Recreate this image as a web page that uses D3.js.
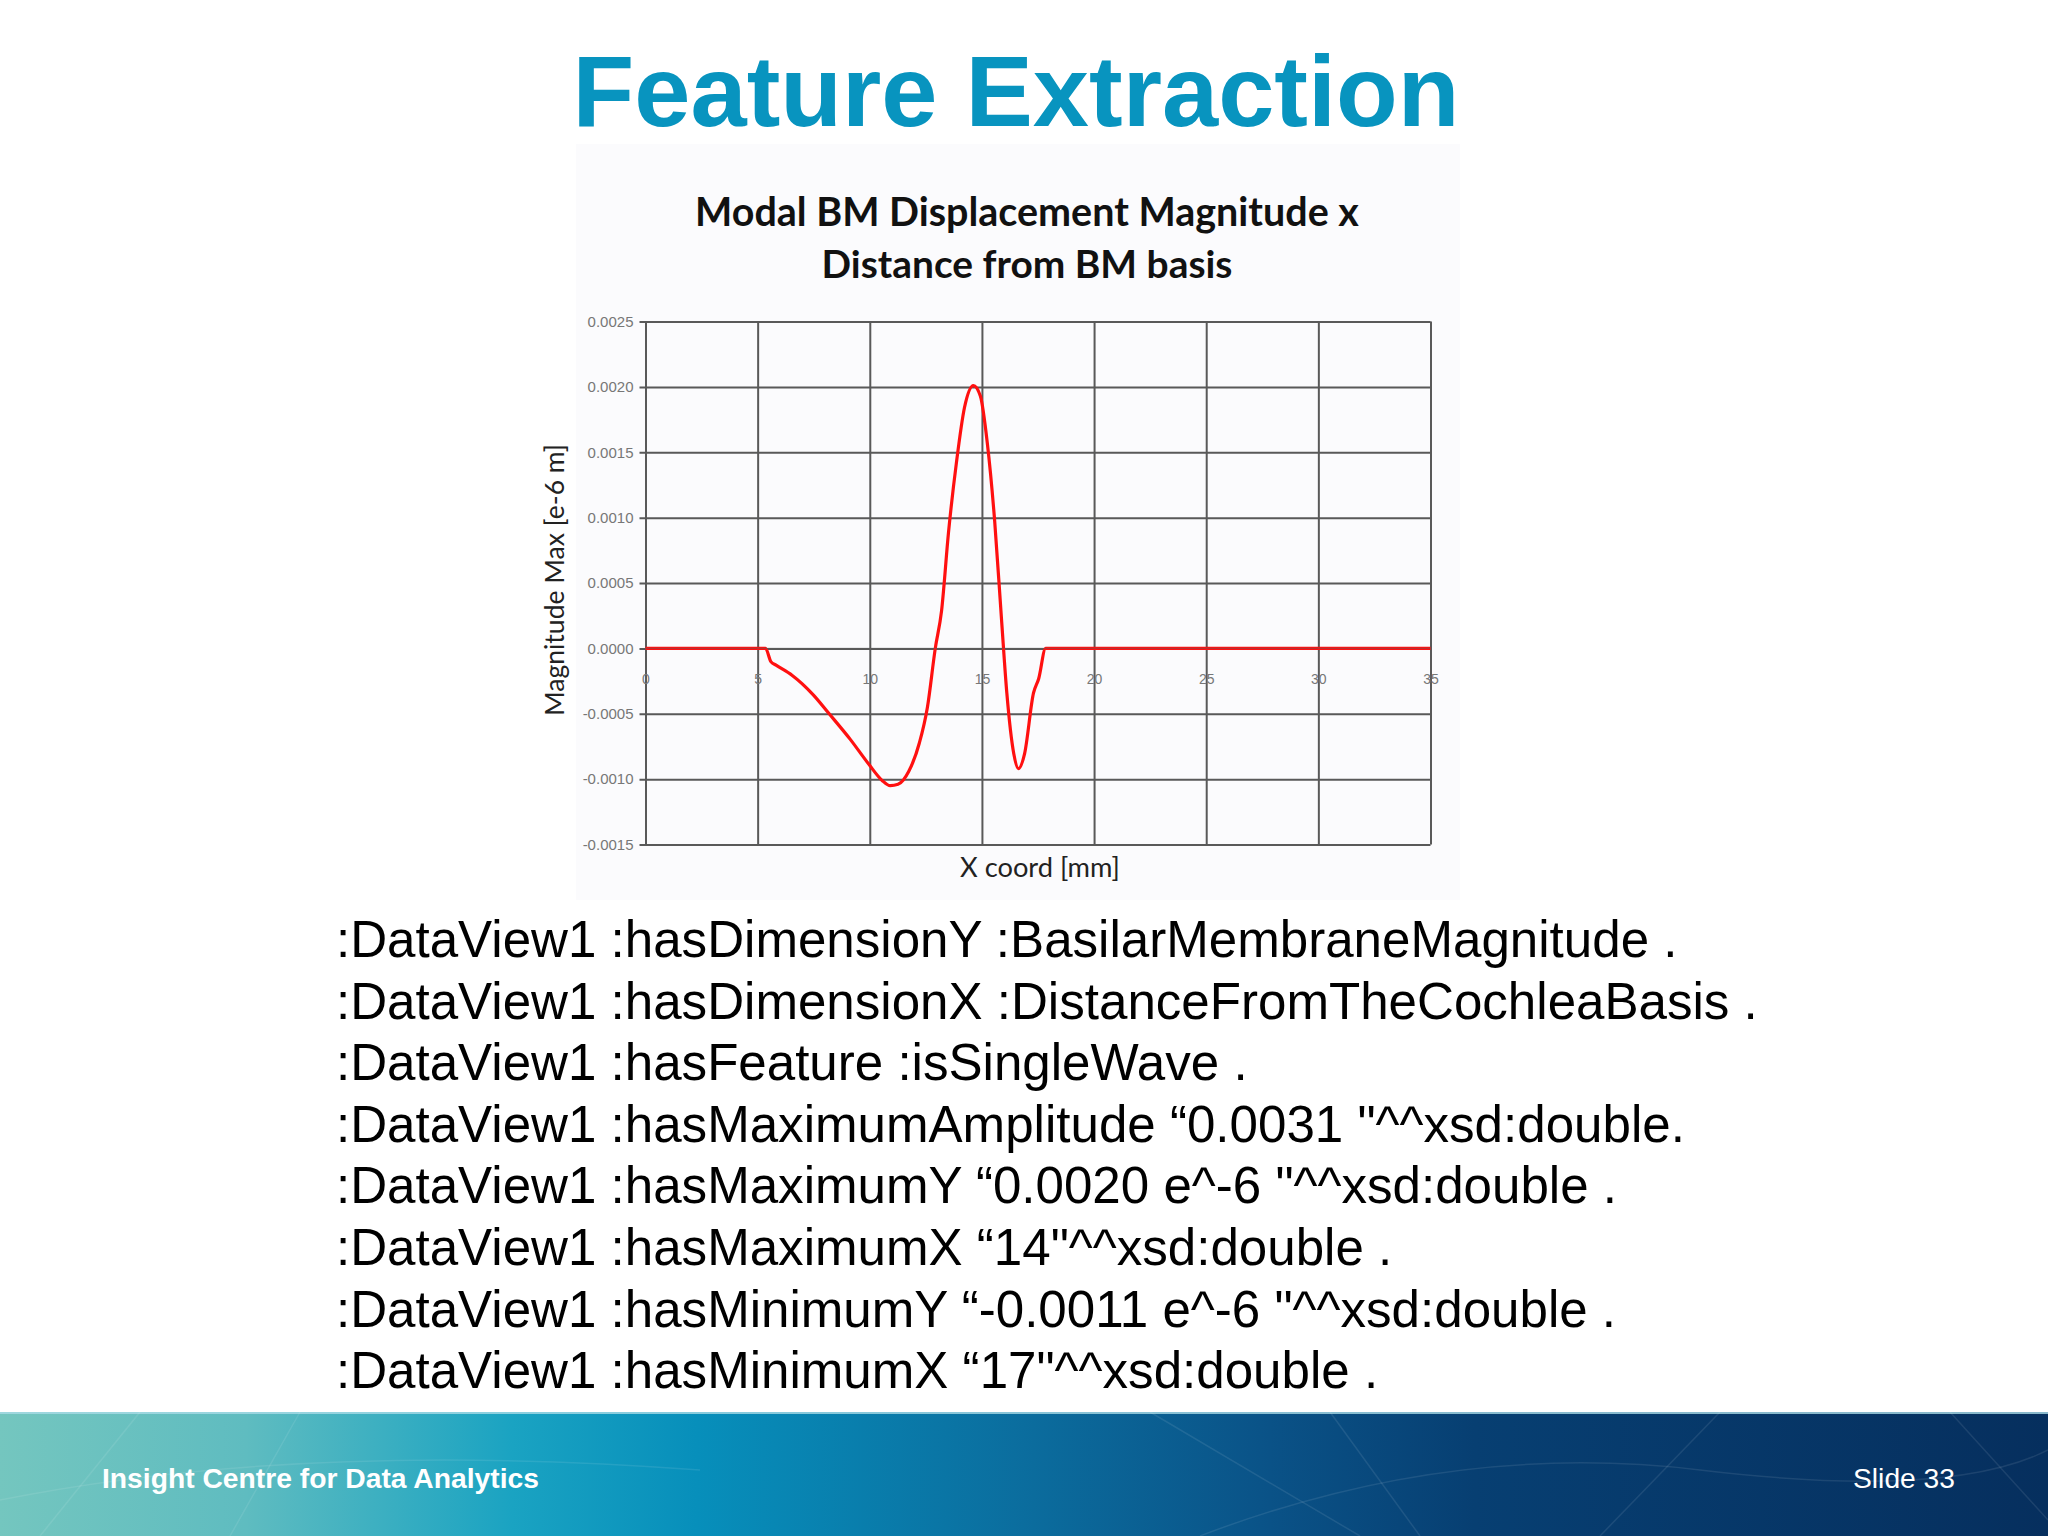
<!DOCTYPE html>
<html>
<head>
<meta charset="utf-8">
<script src="https://cdn.jsdelivr.net/npm/d3@7"></script>
<style>
  html, body { margin: 0; padding: 0; background: #ffffff; }
  svg { display: block; }
</style>
</head>
<body>
<script>
// ---------- data ----------
const slideTitle = "Feature Extraction";
const chartTitleLines = ["Modal BM Displacement Magnitude x", "Distance from BM basis"];
const xAxisTitle = "X coord [mm]";
const yAxisTitle = "Magnitude Max [e-6 m]";
const xTicks = [0, 5, 10, 15, 20, 25, 30, 35];
const yTicks = [-0.0015, -0.0010, -0.0005, 0.0000, 0.0005, 0.0010, 0.0015, 0.0020, 0.0025];
const xCoord = [0, 5.35, 5.59, 5.82, 6.53, 7.48, 8.19, 9.13, 9.96, 10.55, 10.91, 11.26, 11.74, 12.21, 12.57, 12.92, 13.2, 13.51, 13.87, 14.22, 14.62, 14.93, 15.24, 15.57, 15.88, 16.11, 16.42, 16.63, 16.9, 17.3, 17.53, 17.84, 35];
const magnitude = [0, 0, -0.000101, -0.000128, -0.000205, -0.000355, -0.0005, -0.000696, -0.000887, -0.00101, -0.00105, -0.00104, -0.00094, -0.000724, -0.00045, 0, 0.000287, 0.000887, 0.00143, 0.00184, 0.00201, 0.00193, 0.00157, 0.00097, 0.000205, -0.000341, -0.000806, -0.00092, -0.000806, -0.000341, -0.000232, 0, 0];
const bodyLines = [
  ":DataView1 :hasDimensionY :BasilarMembraneMagnitude .",
  ":DataView1 :hasDimensionX :DistanceFromTheCochleaBasis .",
  ":DataView1 :hasFeature :isSingleWave .",
  ":DataView1 :hasMaximumAmplitude \u201C0.0031 \"^^xsd:double.",
  ":DataView1 :hasMaximumY \u201C0.0020 e^-6 \"^^xsd:double .",
  ":DataView1 :hasMaximumX \u201C14\"^^xsd:double .",
  ":DataView1 :hasMinimumY \u201C-0.0011 e^-6 \"^^xsd:double .",
  ":DataView1 :hasMinimumX \u201C17\"^^xsd:double ."
];
const footerLeft = "Insight Centre for Data Analytics";
const footerRight = "Slide 33";

// ---------- layout ----------
const W = 2048, H = 1536;
const svg = d3.select("body").append("svg").attr("width", W).attr("height", H);
svg.append("rect").attr("width", W).attr("height", H).attr("fill", "#ffffff");

function fitWidth(sel, target) {
  const node = sel.node();
  const fs = parseFloat(sel.attr("font-size"));
  const w = node.getComputedTextLength();
  if (w > 0) sel.attr("font-size", (fs * target / w).toFixed(2));
}

// slide title
svg.append("text")
  .attr("x", 1016).attr("y", 126)
  .attr("text-anchor", "middle")
  .attr("font-family", "Liberation Sans, Arial, sans-serif")
  .attr("font-weight", "bold")
  .attr("font-size", 101)
  .attr("fill", "#0894bf")
  .text(slideTitle);

// chart picture background
svg.append("rect").attr("x", 576).attr("y", 144).attr("width", 884).attr("height", 756)
  .attr("fill", "#fbfbfd");

// chart title
const ctBase = [226, 278];
const ctWidth = [664, 411];
chartTitleLines.forEach((t, i) => {
  const s = svg.append("text")
    .attr("x", 1027).attr("y", ctBase[i])
    .attr("text-anchor", "middle")
    .attr("font-family", "Lato, 'Open Sans', sans-serif")
    .attr("font-weight", "bold")
    .attr("font-size", 34)
    .attr("fill", "#111")
    .text(t);
  fitWidth(s, ctWidth[i]);
});

// plot
const L = 645.5, R = 1430.5, T = 321.5, B = 844.5;
const x = d3.scaleLinear().domain([0, 35]).range([L, R]);
const y = d3.scaleLinear().domain([-0.0015, 0.0025]).range([B, T]);
const gridColor = "#595959";
const fmtY = d => d3.format(".4f")(d).replace("\u2212", "-");

const g = svg.append("g");
// horizontal grid lines (y axis ticks)
const yAxis = d3.axisLeft(y).tickValues(yTicks).tickSize(-(R - L)).tickSizeOuter(0)
  .tickFormat(fmtY);
const yg = g.append("g").attr("transform", `translate(${L},0)`).call(yAxis);
yg.select(".domain").remove();
yg.selectAll(".tick line").attr("stroke", gridColor).attr("stroke-width", 2).attr("x1", -6);
yg.selectAll(".tick text")
  .attr("x", -12)
  .attr("font-family", "Liberation Sans, Arial, sans-serif")
  .attr("font-size", 15)
  .attr("fill", "#777");

// vertical grid lines
const xAxis = d3.axisBottom(x).tickValues(xTicks).tickSize(0).tickFormat(d3.format("d"));
const xg = g.append("g").attr("transform", `translate(0,${y(0)})`).call(xAxis);
xg.select(".domain").remove();
xg.selectAll(".tick line")
  .attr("stroke", gridColor).attr("stroke-width", 2)
  .attr("y1", y(0.0025) - y(0)).attr("y2", y(-0.0015) - y(0));
xg.selectAll(".tick text")
  .attr("y", 31).attr("dy", "0.32em")
  .attr("font-family", "Liberation Sans, Arial, sans-serif")
  .attr("font-size", 14)
  .attr("fill", "#777");

// series line
const line = d3.line().x((d, i) => x(xCoord[i])).y(d => y(d)).curve(d3.curveMonotoneX);
g.append("path")
  .datum(magnitude)
  .attr("d", line)
  .attr("fill", "none")
  .attr("stroke", "#ff1010")
  .attr("stroke-width", 3.2)
  .attr("stroke-linejoin", "round");
// zero line shows through slightly
g.append("line")
  .attr("x1", x(0)).attr("x2", x(35)).attr("y1", y(0)).attr("y2", y(0))
  .attr("stroke", "#5c5c5c").attr("stroke-opacity", 0.45).attr("stroke-width", 1.4);

// axis titles
const xt = svg.append("text")
  .attr("x", 1040).attr("y", 877)
  .attr("text-anchor", "middle")
  .attr("font-family", "Lato, 'Open Sans', sans-serif")
  .attr("font-size", 22)
  .attr("fill", "#222")
  .text(xAxisTitle);
fitWidth(xt, 160);

const yt = svg.append("text")
  .attr("transform", "translate(564,580) rotate(-90)")
  .attr("text-anchor", "middle")
  .attr("font-family", "Lato, 'Open Sans', sans-serif")
  .attr("font-size", 22)
  .attr("fill", "#222")
  .text(yAxisTitle);
fitWidth(yt, 272);

// body text
const bodyBase0 = 957, bodyStep = 61.6;
const bt = svg.append("g");
bodyLines.forEach((t, i) => {
  bt.append("text")
    .attr("x", 336).attr("y", bodyBase0 + i * bodyStep)
    .attr("font-family", "Liberation Sans, Arial, sans-serif")
    .attr("font-size", 44)
    .attr("fill", "#000")
    .text(t);
});
fitWidth(bt.selectAll("text").filter((d, i) => i === 1), 1422);
const fsBody = bt.selectAll("text").filter((d, i) => i === 1).attr("font-size");
bt.selectAll("text").attr("font-size", fsBody);

// footer
const defs = svg.append("defs");
const grad = defs.append("linearGradient").attr("id", "footGrad").attr("x1", 0).attr("x2", 1).attr("y1", 0).attr("y2", 0);
[[0, "#74c6bf"], [0.12, "#5fbcc0"], [0.25, "#1aa3c2"], [0.34, "#078fbb"], [0.5, "#0b6d9e"], [0.62, "#0a5287"], [0.72, "#073f72"], [1, "#062f5e"]]
  .forEach(([o, c]) => grad.append("stop").attr("offset", o).attr("stop-color", c));
svg.append("rect").attr("x", 0).attr("y", 1412).attr("width", W).attr("height", H - 1412).attr("fill", "url(#footGrad)");
svg.append("line").attr("x1", 0).attr("x2", W).attr("y1", 1413).attr("y2", 1413)
  .attr("stroke", "#a9dbe6").attr("stroke-width", 2).attr("stroke-opacity", 0.8);

// faint decorative strokes
const deco = svg.append("g").attr("fill", "none").attr("stroke", "#ffffff").attr("stroke-opacity", 0.09).attr("stroke-width", 1.5);
deco.append("path").attr("d", "M0,1500 Q300,1440 700,1470");
deco.append("path").attr("d", "M40,1536 L140,1412");
deco.append("path").attr("d", "M230,1536 L300,1412");
deco.append("path").attr("d", "M1150,1412 L1360,1536");
deco.append("path").attr("d", "M1330,1412 L1420,1536");
deco.append("path").attr("d", "M1200,1536 Q1450,1440 1700,1470 T2048,1450");
deco.append("path").attr("d", "M1600,1536 L1720,1412");
deco.append("path").attr("d", "M1950,1412 L2048,1520");

const fl = svg.append("text")
  .attr("x", 102).attr("y", 1488)
  .attr("font-family", "Liberation Sans, Arial, sans-serif")
  .attr("font-weight", "bold")
  .attr("font-size", 27)
  .attr("fill", "#ffffff")
  .text(footerLeft);
fitWidth(fl, 437);
const fr = svg.append("text")
  .attr("x", 1955).attr("y", 1488)
  .attr("text-anchor", "end")
  .attr("font-family", "Liberation Sans, Arial, sans-serif")
  .attr("font-size", 27)
  .attr("fill", "#ffffff")
  .text(footerRight);
fitWidth(fr, 102);
</script>
</body>
</html>
